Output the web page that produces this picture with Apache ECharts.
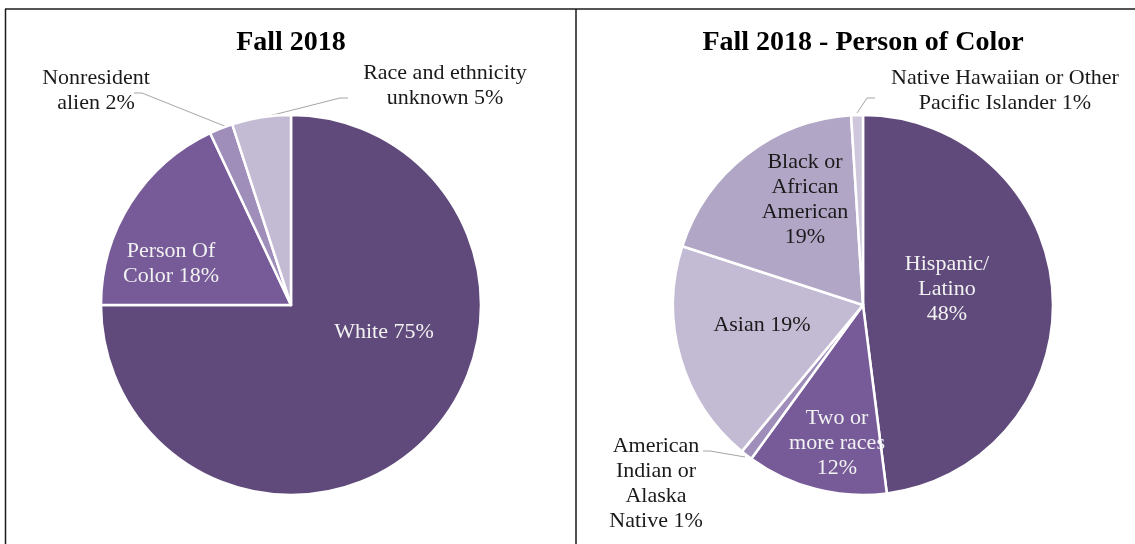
<!DOCTYPE html>
<html>
<head>
<meta charset="utf-8">
<script src="https://cdn.jsdelivr.net/npm/echarts@6/dist/echarts.min.js"></script>
<style>
html,body{margin:0;padding:0;background:#fff;}
#chart{width:1135px;height:544px;}
</style>
</head>
<body>
<div id="chart"></div>
<script>
// ---- data ----
const leftTitle = 'Fall 2018';
const leftCategories = ['White', 'Person Of Color', 'Nonresident alien', 'Race and ethnicity unknown'];
const leftValues = [75, 18, 2, 5];

const rightTitle = 'Fall 2018 - Person of Color';
const rightCategories = ['Hispanic/Latino', 'Two or more races', 'American Indian or Alaska Native', 'Asian', 'Black or African American', 'Native Hawaiian or Other Pacific Islander'];
const rightValues = [48, 12, 1, 19, 19, 1];

// ---- styling / layout ----
const FONT = '"Liberation Serif", "DejaVu Serif", serif';
const leftColors = ['#604A7B', '#765B98', '#9F8DBA', '#C3BAD3'];
const rightColors = ['#604A7B', '#765B98', '#9F8DBA', '#C3BAD3', '#B1A6C6', '#CFC8DD'];

// label text templates ({v} replaced by value)
const templates = {
  'White': 'White {v}%',
  'Person Of Color': 'Person Of\nColor {v}%',
  'Nonresident alien': 'Nonresident\nalien {v}%',
  'Race and ethnicity unknown': 'Race and ethnicity\nunknown {v}%',
  'Hispanic/Latino': 'Hispanic/\nLatino\n{v}%',
  'Two or more races': 'Two or\nmore races\n{v}%',
  'American Indian or Alaska Native': 'American\nIndian or\nAlaska\nNative {v}%',
  'Asian': 'Asian {v}%',
  'Black or African American': 'Black or\nAfrican\nAmerican\n{v}%',
  'Native Hawaiian or Other Pacific Islander': 'Native Hawaiian or Other\nPacific Islander {v}%'
};
const labelColor = {
  'White': '#F2F2F2', 'Person Of Color': '#F2F2F2', 'Hispanic/Latino': '#F2F2F2', 'Two or more races': '#F2F2F2'
};
const placement = {
  'White': {x: 384, y: 332},
  'Person Of Color': {x: 171, y: 264},
  'Nonresident alien': {x: 96, y: 91, line: [[227,127],[142,93],[134,93]]},
  'Race and ethnicity unknown': {x: 445, y: 86, line: [[265,117],[340,98],[348,98]]},
  'Hispanic/Latino': {x: 947, y: 289},
  'Two or more races': {x: 837, y: 443},
  'American Indian or Alaska Native': {x: 656, y: 484, line: [[745,457],[710,451],[703,451]]},
  'Asian': {x: 762, y: 325},
  'Black or African American': {x: 805, y: 200},
  'Native Hawaiian or Other Pacific Islander': {x: 1005, y: 91, line: [[857,113],[867,98],[875,98]]}
};

function buildData(cats, vals, colors) {
  return cats.map((c, i) => {
    const outside = !!placement[c].line;
    return {
      name: c,
      value: vals[i],
      itemStyle: {color: colors[i]},
      label: {color: labelColor[c] || '#1A1A1A'},
      labelLine: {show: outside}
    };
  });
}

function makeSeries(cats, vals, colors, cx) {
  return {
    type: 'pie',
    center: [cx, 305],
    radius: [0, 190],
    startAngle: 90,
    clockwise: true,
    avoidLabelOverlap: false,
    silent: true,
    itemStyle: {borderColor: '#FFFFFF', borderWidth: 2.5},
    label: {
      show: true,
      position: 'outside',
      fontFamily: FONT,
      fontSize: 22,
      lineHeight: 25,
      align: 'center',
      formatter: p => templates[p.name].replace('{v}', p.value)
    },
    labelLine: {show: true, lineStyle: {color: '#A6A6A6', width: 1}, length: 10, length2: 10},
    labelLayout: function (params) {
      const cat = cats[params.dataIndex];
      const pl = placement[cat];
      const res = {x: pl.x, y: pl.y, align: 'center', verticalAlign: 'middle'};
      if (pl.line) res.labelLinePoints = pl.line;
      return res;
    },
    data: buildData(cats, vals, colors)
  };
}

const chart = echarts.init(document.getElementById('chart'), null, {renderer: 'canvas'});
chart.setOption({
  animation: false,
  backgroundColor: '#FFFFFF',
  graphic: [
    {type: 'line', shape: {x1: 5, y1: 9, x2: 1135, y2: 9}, style: {stroke: '#555555', lineWidth: 2}},
    {type: 'line', shape: {x1: 5.5, y1: 9, x2: 5.5, y2: 544}, style: {stroke: '#1A1A1A', lineWidth: 1.5}},
    {type: 'line', shape: {x1: 576, y1: 9, x2: 576, y2: 544}, style: {stroke: '#1A1A1A', lineWidth: 1.5}},
    {type: 'text', x: 291, y: 43, style: {text: leftTitle, font: 'bold 28px ' + FONT, fill: '#000', align: 'center', verticalAlign: 'middle'}},
    {type: 'text', x: 863, y: 43, style: {text: rightTitle, font: 'bold 28px ' + FONT, fill: '#000', align: 'center', verticalAlign: 'middle'}}
  ],
  series: [
    makeSeries(leftCategories, leftValues, leftColors, 291),
    makeSeries(rightCategories, rightValues, rightColors, 863)
  ]
});
</script>
</body>
</html>
